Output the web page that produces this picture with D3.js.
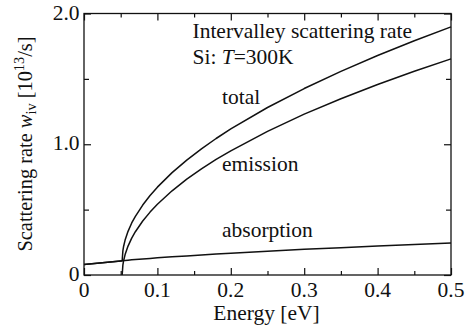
<!DOCTYPE html>
<html><head><meta charset="utf-8">
<script src="https://cdn.jsdelivr.net/npm/d3@7"></script>
<style>body{margin:0;background:#fff}svg{display:block}text{font-family:"Liberation Serif","Times New Roman",serif;fill:#111}</style>
</head><body>
<svg id="c" width="465" height="334"></svg>
<script>
const energy     = [0, 0.05, 0.052, 0.053, 0.054, 0.056, 0.06, 0.065, 0.07, 0.08, 0.09, 0.1, 0.12, 0.14, 0.16, 0.18, 0.2, 0.25, 0.3, 0.35, 0.4, 0.45, 0.5];
const absorption = [0.080, 0.108, 0.109, 0.109, 0.110, 0.111, 0.113, 0.116, 0.118, 0.122, 0.127, 0.131, 0.139, 0.146, 0.153, 0.160, 0.167, 0.182, 0.196, 0.209, 0.222, 0.234, 0.245];
const emission   = [null, null, 0, 0.078, 0.110, 0.156, 0.221, 0.282, 0.331, 0.413, 0.481, 0.541, 0.644, 0.733, 0.812, 0.884, 0.950, 1.099, 1.230, 1.348, 1.457, 1.558, 1.653];
const total      = [0.080, 0.108, 0.109, 0.187, 0.220, 0.267, 0.334, 0.398, 0.449, 0.535, 0.608, 0.672, 0.783, 0.879, 0.965, 1.044, 1.117, 1.281, 1.426, 1.557, 1.679, 1.792, 1.898];
const xTicks = [0, 0.1, 0.2, 0.3, 0.4, 0.5];
const xMinor = [0.05, 0.15, 0.25, 0.35, 0.45];
const yTicks = [0, 1.0, 2.0];
const yTickLabels = ["0", "1.0", "2.0"];
const yMinor = [0.5, 1.5];
const curveLabels = ["total", "emission", "absorption"];

const svg = d3.select("#c");
const L=84, R=451, T=13.5, B=275;
const x = d3.scaleLinear().domain([0,0.5]).range([L,R]);
const y = d3.scaleLinear().domain([0,2]).range([B,T]);
const SX = 1.075, FS = 20;

function txt(px, py, anchor){
  return svg.append("text").attr("transform",`translate(${px},${py}) scale(${SX},1)`)
    .attr("text-anchor",anchor||"start").style("font-size",FS+"px");
}

// frame
svg.append("rect").attr("x",L).attr("y",T).attr("width",R-L).attr("height",B-T)
  .attr("fill","none").attr("stroke","#111").attr("stroke-width",1.3);

// axes with inward ticks (all four sides)
svg.append("g").attr("transform",`translate(0,${B})`)
  .call(d3.axisTop(x).tickValues(xTicks).tickSize(7).tickFormat(""));
svg.append("g").attr("transform",`translate(0,${B})`)
  .call(d3.axisTop(x).tickValues(xMinor).tickSize(4).tickFormat(""));
svg.append("g").attr("transform",`translate(0,${T})`)
  .call(d3.axisBottom(x).tickValues(xTicks).tickSize(7).tickFormat(""));
svg.append("g").attr("transform",`translate(0,${T})`)
  .call(d3.axisBottom(x).tickValues(xMinor).tickSize(4).tickFormat(""));
svg.append("g").attr("transform",`translate(${L},0)`)
  .call(d3.axisRight(y).tickValues(yTicks).tickSize(7).tickFormat(""));
svg.append("g").attr("transform",`translate(${L},0)`)
  .call(d3.axisRight(y).tickValues(yMinor).tickSize(5).tickFormat(""));
svg.append("g").attr("transform",`translate(${R},0)`)
  .call(d3.axisLeft(y).tickValues(yTicks).tickSize(7).tickFormat(""));
svg.append("g").attr("transform",`translate(${R},0)`)
  .call(d3.axisLeft(y).tickValues(yMinor).tickSize(5).tickFormat(""));
svg.selectAll(".domain").remove();
svg.selectAll(".tick line").attr("stroke","#111").attr("stroke-width",1.2);

// tick labels
xTicks.forEach(v=>{ txt(x(v),297,"middle").text(v===0?"0":v.toFixed(1)); });
yTicks.forEach((v,i)=>{ txt(79.5,y(v)+6,"end").text(yTickLabels[i]); });

// curves
const idx = energy.map((e,i)=>i);
function line(arr){
  return d3.line().defined(i=>arr[i]!==null).x(i=>x(energy[i])).y(i=>y(arr[i]));
}
[absorption, emission, total].forEach(arr=>{
  svg.append("path").attr("d", line(arr)(idx)).attr("fill","none")
    .attr("stroke","#111").attr("stroke-width",1.5).attr("stroke-linejoin","round");
});

// annotations
txt(192.5,38).text("Intervalley scattering rate");
const t2 = txt(192.5,64);
t2.append("tspan").text("Si:  ");
t2.append("tspan").style("font-style","italic").text("T");
t2.append("tspan").text("=300K");
txt(222,104).text(curveLabels[0]);
txt(222,171).text(curveLabels[1]);
txt(222,237).text(curveLabels[2]);

// axis titles
txt(266.5,319.5,"middle").text("Energy [eV]");
const yl = svg.append("text").attr("transform",`translate(31.5,144) rotate(-90) scale(1.02,1)`)
  .attr("text-anchor","middle").style("font-size",FS+"px");
yl.append("tspan").text("Scattering rate ");
yl.append("tspan").style("font-style","italic").text("w");
yl.append("tspan").attr("dy",4).style("font-size","14px").text("iv");
yl.append("tspan").attr("dy",-4).text(" [10");
yl.append("tspan").attr("dy",-8).style("font-size","14px").text("13");
yl.append("tspan").attr("dy",8).text("/s]");
</script>
</body></html>
